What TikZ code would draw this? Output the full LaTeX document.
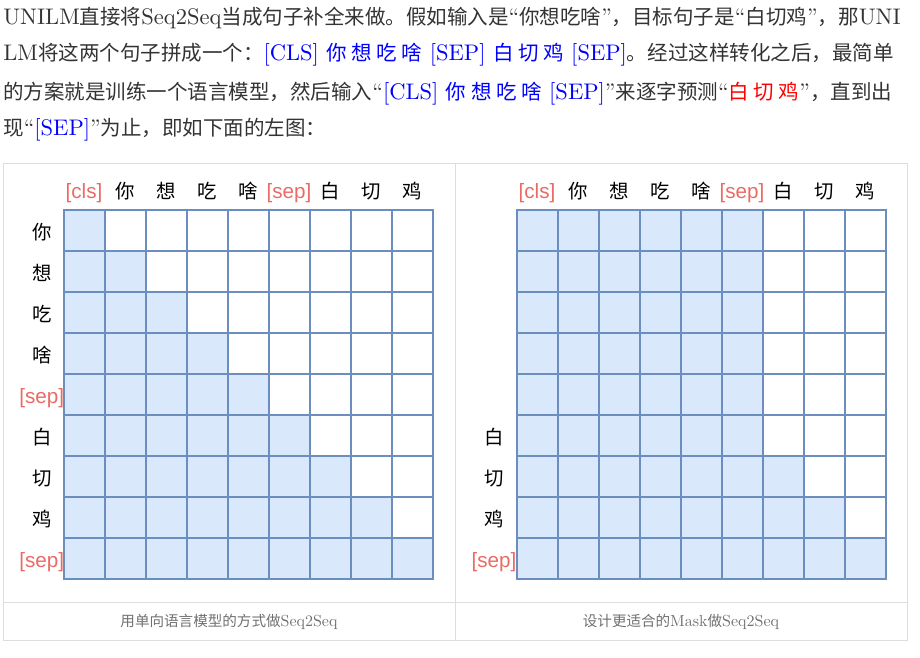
\documentclass[tikz,border=0pt]{standalone}
\usepackage{fontspec}
\usepackage{tikz}
\setmainfont{lmroman10-regular}[Extension=.otf,BoldFont=lmroman10-bold]
\newfontfamily\cjk[Scale=0.91]{Noto Sans CJK SC}
\newfontfamily\labelsans{Liberation Sans}
\definecolor{bodytext}{HTML}{333333}
\definecolor{captext}{HTML}{707070}
\definecolor{tablerule}{HTML}{DDDDDD}
\definecolor{cellfill}{HTML}{DAE8FC}
\definecolor{cellrule}{HTML}{6C8EBF}
\definecolor{tokred}{HTML}{EA6B66}
\newcommand{\tokcls}{{\labelsans\fontsize{15.5}{16}\selectfont\color{tokred}[cls]}}
\newcommand{\toksep}{{\labelsans\fontsize{15.5}{16}\selectfont\color{tokred}[sep]}}

\begin{document}
\begin{tikzpicture}[x=0.75pt,y=-0.75pt,
	bodyline/.style={anchor=base west,inner sep=0pt,text=bodytext,font=\fontsize{16.9}{20}\selectfont},
	caption/.style={anchor=base,inner sep=0pt,text=captext,font=\fontsize{12}{14}\selectfont},
	toklabel/.style={anchor=base,inner sep=0pt,font=\cjk\fontsize{16}{18}\selectfont},
	gridline/.style={draw=cellrule,line width=1.5pt}]
	\useasboundingbox (0,0) rectangle (920,657);
	\node[bodyline] (para1) at (3,24) {UNILM{\cjk 直接将}Seq2Seq{\cjk 当成句子补全来做。假如输入是}“{\cjk 你想吃啥}”{\cjk ，目标句子是}“{\cjk 白切鸡}”{\cjk ，那}UNI};
	\node[bodyline] (para2) at (3,60.5) {LM{\cjk 将这两个句子拼成一个：}{\color{blue}[CLS] {\cjk 你 想 吃 啥} [SEP] {\cjk 白 切 鸡} [SEP]}{\cjk 。经过这样转化之后，最简单}};
	\node[bodyline] (para3) at (3,99) {{\cjk 的方案就是训练一个语言模型，然后输入}“{\color{blue}[CLS] {\cjk 你 想 吃 啥} [SEP]}”{\cjk 来逐字预测}“{\color{red}\cjk 白 切 鸡}”{\cjk ，直到出}};
	\node[bodyline] (para4) at (3,135.5) {{\cjk 现}“{\color{blue}[SEP]}”{\cjk 为止，即如下面的左图：}};
	\draw[tablerule,line width=0.75pt] (3,163) rectangle (907,640);
	\draw[tablerule,line width=0.75pt] (455,163) -- (455,640);
	\draw[tablerule,line width=0.75pt] (3,602) -- (907,602);
	\begin{scope}[shift={(63.5,210)},x=30.75pt,y=-30.75pt]
		\foreach \r in {0,...,8}
			\fill[cellfill] (0,\r) rectangle (\r+1,\r+1);
		\foreach \i in {0,...,9}
			\draw[gridline] (\i,0) -- (\i,9) (0,\i) -- (9,\i);
		\draw[gridline] (0,0) rectangle (9,9);
		\foreach \tok [count=\c from 0] in {\tokcls,你,想,吃,啥,\toksep,白,切,鸡}
			\node[toklabel] (lhead\c) at (\c+0.5,-0.27) {\tok};
		\foreach \tok [count=\r from 0] in {你,想,吃,啥,\toksep,白,切,鸡,\toksep}
			\node[toklabel] (lrow\r) at (-0.53,\r+0.72) {\tok};
	\end{scope}
	\begin{scope}[shift={(516.5,210)},x=30.75pt,y=-30.75pt]
		\foreach \r in {0,...,8} {
			\pgfmathsetmacro\n{max(6,\r+1)}
			\fill[cellfill] (0,\r) rectangle (\n,\r+1);
		}
		\foreach \i in {0,...,9}
			\draw[gridline] (\i,0) -- (\i,9) (0,\i) -- (9,\i);
		\draw[gridline] (0,0) rectangle (9,9);
		\foreach \tok [count=\c from 0] in {\tokcls,你,想,吃,啥,\toksep,白,切,鸡}
			\node[toklabel] (rhead\c) at (\c+0.5,-0.27) {\tok};
		\foreach \tok [count=\r from 5] in {白,切,鸡,\toksep}
			\node[toklabel] (rrow\r) at (-0.55,\r+0.72) {\tok};
	\end{scope}
	\node[caption] (capleft) at (229,626) {{\cjk 用单向语言模型的方式做}Seq2Seq};
	\node[caption] (capright) at (681,626) {{\cjk 设计更适合的}Mask{\cjk 做}Seq2Seq};
\end{tikzpicture}
\end{document}
